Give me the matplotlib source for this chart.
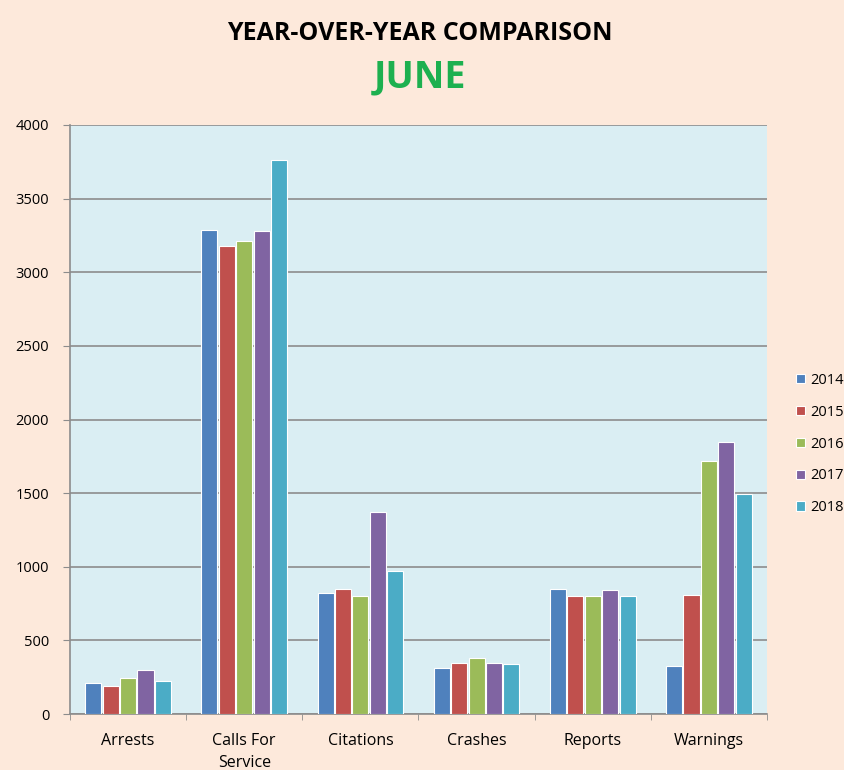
import matplotlib.pyplot as plt
import matplotlib.ticker as mticker
import numpy as np

categories = ["Arrests", "Calls For\nService", "Citations", "Crashes", "Reports", "Warnings"]
years = ["2014", "2015", "2016", "2017", "2018"]
v2014 = [210, 3290, 822, 315, 850, 326]
v2015 = [190, 3175, 852, 349, 798, 811]
v2016 = [245, 3215, 798, 381, 798, 1719]
v2017 = [300, 3280, 1375, 349, 841, 1846]
v2018 = [225, 3760, 968, 338, 798, 1492]
series = [v2014, v2015, v2016, v2017, v2018]
colors = ["#4F81BD", "#C0504D", "#9BBB59", "#8064A2", "#4BACC6"]

plt.rcParams["font.family"] = ["Open Sans", "DejaVu Sans"]

fig = plt.figure(figsize=(8.45, 7.7), dpi=100, facecolor="#FDE9DB")
ax = fig.add_axes([70 / 845, 1 - 714 / 770, 697 / 845, 589 / 770])
ax.set_facecolor("#DAEEF3")

x = np.arange(len(categories))
width = 0.15
for i, (vals, col, yr) in enumerate(zip(series, colors, years)):
    off = (i - 2) * width
    ax.bar(x + off, vals, width=width * 0.92, color=col, edgecolor="white",
           linewidth=0.8, label=yr, zorder=3)

ax.set_xlim(-0.5, len(categories) - 0.5)
ax.set_ylim(0, 4000)
ax.yaxis.set_major_locator(mticker.MultipleLocator(500))
ax.grid(True, axis="y", color="#8C8C8C", linewidth=1.2, zorder=0)
ax.set_axisbelow(True)

ax.set_xticks(x)
ax.set_xticklabels(categories, fontsize=11.5, linespacing=1.45)
ax.tick_params(axis="x", length=0, pad=14)
ax.set_xticks(np.arange(-0.5, len(categories)), minor=True)
ax.tick_params(axis="x", which="minor", length=4, color="#8C8C8C")
ax.tick_params(axis="y", labelsize=10.5, length=5, color="#8C8C8C", pad=10)

for side in ("top", "right"):
    ax.spines[side].set_visible(False)
for side in ("left", "bottom"):
    ax.spines[side].set_color("#8C8C8C")
    ax.spines[side].set_linewidth(1.2)

fig.text(0.497, 0.957, "YEAR-OVER-YEAR COMPARISON", ha="center", va="center",
         fontsize=18, fontweight="bold", color="black")
fig.text(0.497, 0.899, "JUNE", ha="center", va="center",
         fontsize=27, fontweight="bold", color="#1DB04F")

fig.legend(loc="center left", bbox_to_anchor=(783 / 845, 1 - 444 / 770),
           frameon=False, fontsize=10.5, handlelength=0.6, handleheight=0.6,
           handletextpad=0.4, labelspacing=1.15)

fig.savefig("out.png", dpi=100, facecolor=fig.get_facecolor())
